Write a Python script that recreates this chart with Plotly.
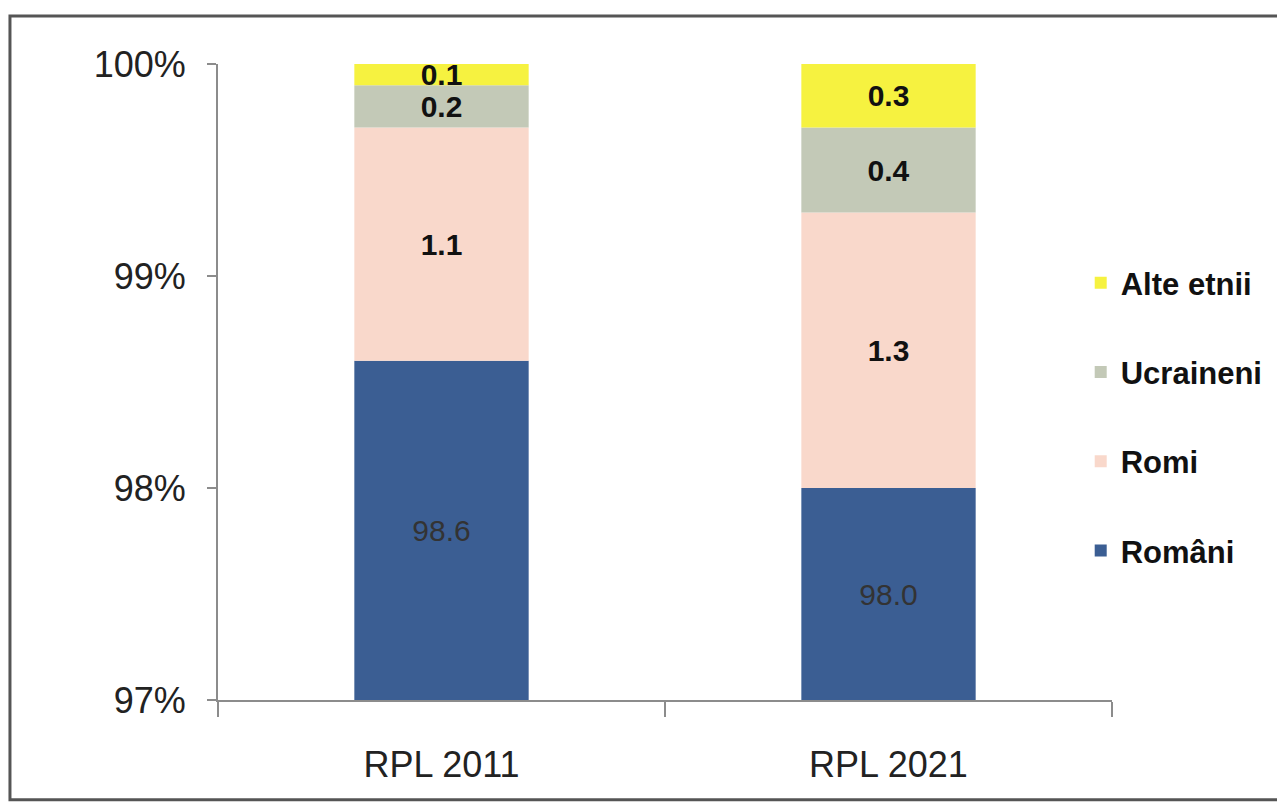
import plotly.graph_objects as go

categories = ["RPL 2011", "RPL 2021"]
series_names = ["Români", "Romi", "Ucraineni", "Alte etnii"]
romani = [98.6, 98.0]
romi = [1.1, 1.3]
ucraineni = [0.2, 0.4]
alte = [0.1, 0.3]
y_ticks = [97, 98, 99, 100]
y_tick_labels = ["97%", "98%", "99%", "100%"]

FONT = "Liberation Sans Narrow, Arial Narrow, Liberation Sans, sans-serif"
colors = ["#3B5E93", "#F9D8CB", "#C3C9B7", "#F6F240"]
label_fonts = [
    dict(family=FONT, size=30, color="#333333"),
    dict(family=FONT, size=30, color="#111111", weight="bold"),
    dict(family=FONT, size=30, color="#111111", weight="bold"),
    dict(family=FONT, size=30, color="#111111", weight="bold"),
]

y_min = y_ticks[0]
series = [romani, romi, ucraineni, alte]

fig = go.Figure()
cum = [y_min for _ in categories]
for i, (name, vals) in enumerate(zip(series_names, series)):
    if i == 0:
        base = [y_min] * len(vals)
        heights = [v - y_min for v in vals]
        cum = list(vals)
    else:
        base = list(cum)
        heights = list(vals)
        cum = [c + v for c, v in zip(cum, vals)]
    fig.add_trace(go.Bar(
        x=categories, y=heights, base=base, name=name,
        marker=dict(color=colors[i], line=dict(width=0)),
        text=[f"{v:.1f}" for v in vals],
        textposition="inside", insidetextanchor="middle",
        constraintext="none",
        textfont=label_fonts[i],
        legendgroup=name,
        legendrank=len(series_names) - i,
        width=0.39,
        hoverinfo="name+text",
    ))

fig.update_layout(
    barmode="overlay",
    width=1285, height=804,
    margin=dict(l=210, r=181, t=56, b=112),
    paper_bgcolor="white", plot_bgcolor="white",
    font=dict(family=FONT, color="#222222"),
    showlegend=True,
    legend=dict(
        x=0.965, xanchor="left", y=0.698, yanchor="top",
        traceorder="grouped", tracegroupgap=46,
        font=dict(size=31, color="#111111", weight="bold", family=FONT),
        bgcolor="rgba(0,0,0,0)",
    ),
    xaxis=dict(
        showline=True, linecolor="#8C8C8C", linewidth=2,
        ticks="outside", tickson="boundaries", ticklen=15, tickcolor="#8C8C8C", tickwidth=2,
        tickfont=dict(size=36, color="#222222"),
        ticklabelstandoff=32,
        showgrid=False, zeroline=False,
    ),
    yaxis=dict(
        range=[y_ticks[0], y_ticks[-1]],
        tickvals=y_ticks, ticktext=y_tick_labels,
        showline=True, linecolor="#8C8C8C", linewidth=2,
        ticks="outside", ticklen=9, tickcolor="#8C8C8C", tickwidth=2,
        tickfont=dict(size=36, color="#222222"),
        ticklabelstandoff=14,
        showgrid=False, zeroline=False,
    ),
    shapes=[dict(
        type="rect", xref="paper", yref="paper",
        x0=-0.2327, x1=1.25, y0=-0.157, y1=1.0755,
        line=dict(color="#555555", width=3), fillcolor="rgba(0,0,0,0)", layer="below",
    )],
)

fig.write_html("out.html")
